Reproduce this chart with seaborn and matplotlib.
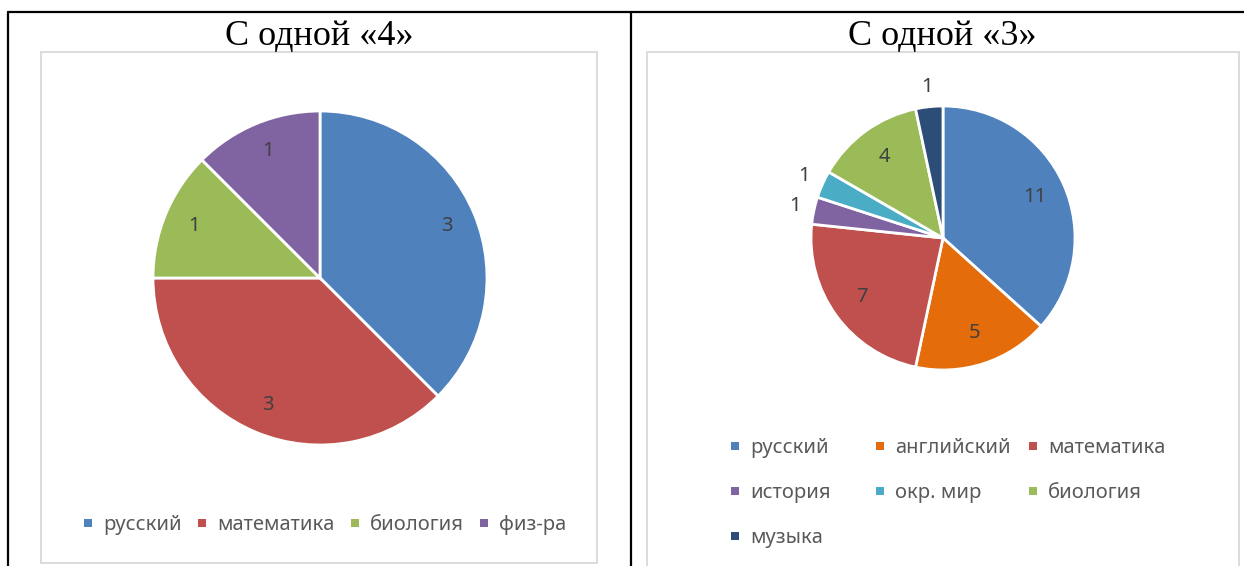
import matplotlib.pyplot as plt
import numpy as np
import seaborn as sns
from matplotlib.lines import Line2D
from matplotlib.patches import Rectangle

# %%
# data
left_title = "С одной «4»"
left_labels = ["русский", "математика", "биология", "физ-ра"]
left_values = [3, 3, 1, 1]
left_colors = ["#4F81BD", "#C0504D", "#9BBB59", "#8064A2"]

right_title = "С одной «3»"
right_labels = ["русский", "английский", "математика", "история", "окр. мир", "биология", "музыка"]
right_values = [11, 5, 7, 1, 1, 4, 1]
right_colors = ["#4F81BD", "#E46C0A", "#C0504D", "#8064A2", "#4BACC6", "#9BBB59", "#2C4D75"]

# %%
sns.set_theme(style="white")
plt.rcParams["font.family"] = ["Noto Sans", "DejaVu Sans"]

W, H = 1244, 566
fig = plt.figure(figsize=(W / 100, H / 100), dpi=100)


def px(x, y):
    # pixel position (from top left) -> figure fraction
    return x / W, 1 - y / H


def pie_axes(cx, cy, r):
    x0, y0 = px(cx - r, cy + r)
    return fig.add_axes([x0, y0, 2 * r / W, 2 * r / H])


def draw_pie(ax, values, colors, inner=0.8, outer=1.15):
    wedges, _, autotexts = ax.pie(
        values,
        colors=sns.color_palette(colors),
        startangle=90,
        counterclock=False,
        autopct=lambda p: "{:.0f}".format(p * sum(values) / 100),
        pctdistance=inner,
        wedgeprops=dict(edgecolor="white", linewidth=2.0),
        textprops=dict(color="#404040", fontsize=14.5),
    )
    # small slices get their label outside, like Excel's best fit
    total = sum(values)
    for v, w, t in zip(values, wedges, autotexts):
        if v / total < 0.05:
            th = np.deg2rad((w.theta1 + w.theta2) / 2)
            t.set_position((outer * np.cos(th), outer * np.sin(th)))
    ax.set_xlim(-1, 1)
    ax.set_ylim(-1, 1)
    ax.axis("off")
    return wedges


# frames of the table and chart areas
line_kw = dict(color="black", linewidth=1.6, transform=fig.transFigure)
fig.add_artist(Line2D(*zip(px(8, 12), px(W, 12)), **line_kw))
fig.add_artist(Line2D(*zip(px(8, 12), px(8, H + 5)), **line_kw))
fig.add_artist(Line2D(*zip(px(631, 12), px(631, H + 5)), **line_kw))

box_kw = dict(fill=False, edgecolor="#D9D9D9", linewidth=1.3, transform=fig.transFigure)
bx, by = px(41, 563)
fig.add_artist(Rectangle((bx, by), (597 - 41) / W, (563 - 52) / H, **box_kw))
bx, by = px(647, 575)
fig.add_artist(Rectangle((bx, by), (1239 - 647) / W, (575 - 52) / H, **box_kw))

# titles
title_kw = dict(family=["Liberation Serif", "DejaVu Serif"], fontsize=26, ha="center", va="baseline", color="black")
fig.text(*px(319, 45), left_title, **title_kw)
fig.text(*px(942, 45), right_title, **title_kw)

# pies
ax1 = pie_axes(320, 278, 167)
draw_pie(ax1, left_values, left_colors, inner=0.82)
ax2 = pie_axes(943, 238, 132)
draw_pie(ax2, right_values, right_colors, inner=0.76)


def handles(colors):
    return [
        Line2D([], [], linestyle="none", marker="s", markersize=5.5, color=c, markeredgewidth=0)
        for c in colors
    ]


leg_kw = dict(
    frameon=False,
    fontsize=14.5,
    labelcolor="#595959",
    handlelength=0.5,
    handletextpad=0.5,
    borderpad=0,
    borderaxespad=0,
)

fig.legend(
    handles(left_colors), left_labels, ncol=4, loc="center",
    bbox_to_anchor=px(325, 525), columnspacing=0.75, **leg_kw
)

# right legend: 3 equal columns, rows filled left to right
col_x = [730, 875, 1028]
for i, x in enumerate(col_x):
    idx = list(range(i, len(right_labels), 3))
    fig.legend(
        handles([right_colors[j] for j in idx]), [right_labels[j] for j in idx],
        loc="upper left", bbox_to_anchor=px(x, 438), labelspacing=1.25, **leg_kw
    )

fig.savefig("out.png", dpi=100)
